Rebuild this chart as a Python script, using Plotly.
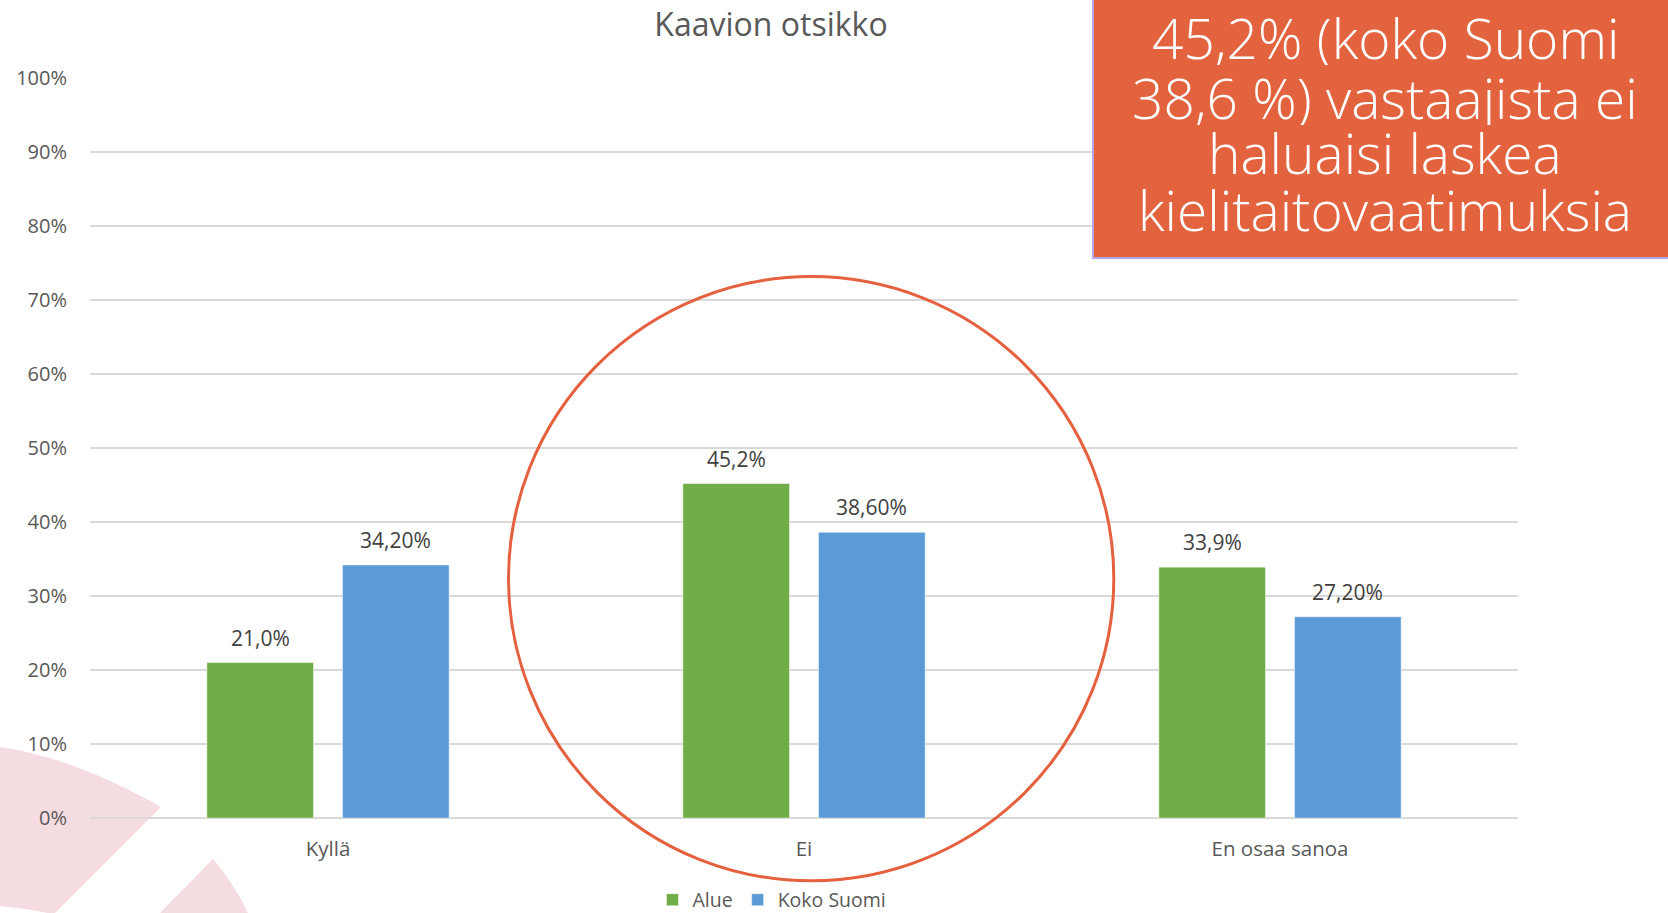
import plotly.graph_objects as go

# ---- data ----
categories = ["Kyllä", "Ei", "En osaa sanoa"]
alue = [21.0, 45.2, 33.9]
koko_suomi = [34.2, 38.6, 27.2]
series_names = ["Alue", "Koko Suomi"]
label_decimals = [1, 2]
y_tick_values = [0, 10, 20, 30, 40, 50, 60, 70, 80, 90, 100]
y_tick_labels = [f"{v}%" for v in y_tick_values]
title_text = "Kaavion otsikko"
callout_lines = ["45,2% (koko Suomi", "38,6 %) vastaajista ei", "haluaisi laskea", "kielitaitovaatimuksia"]

# ---- layout geometry ----
W, H = 1668, 913
ML, MR, MT, MB = 90, 150, 78, 95
PW, PH = W - ML - MR, H - MT - MB
BARGAP, BARGROUPGAP = 0.43, 0.214

GREEN, BLUE = "#70AD47", "#5B9BD5"
TXT, LBL = "#595959", "#404040"
ORANGE = "#E4633F"
PINK = "#F5DCE1"
FONT = "Open Sans"


def px(x):
    return (x - ML) / PW


def py(y):
    return 1 - (y - MT) / PH


def path(cmds):
    out = []
    for c in cmds:
        op, pts = c[0], c[1:]
        out.append(op + " ".join(f"{px(a):.5f},{py(b):.5f}" for a, b in pts))
    return " ".join(out) + " Z"


fig = go.Figure()
for name, vals, col in zip(series_names, [alue, koko_suomi], [GREEN, BLUE]):
    fig.add_trace(go.Bar(x=categories, y=vals, name=name,
                         marker=dict(color=col, line=dict(color="rgba(255,255,255,0.45)", width=1))))

# value labels
slot = (1 - BARGAP) * PW / len(categories) / len(series_names)
annotations = []
for s, (vals, dec) in enumerate(zip([alue, koko_suomi], label_decimals)):
    off = (s - (len(series_names) - 1) / 2) * slot
    for c, v in zip(categories, vals):
        annotations.append(dict(x=c, y=v, xref="x", yref="y", xshift=off, yshift=25,
                                text=f"{v:.{dec}f}".replace(".", ",") + "%",
                                showarrow=False, yanchor="middle",
                                font=dict(family=FONT, size=21, color=LBL)))

# callout text
line_y = [37, 98, 153, 210]
for t, yy in zip(callout_lines, line_y):
    annotations.append(dict(x=px(1385), y=py(yy), xref="paper", yref="paper", text=t,
                            showarrow=False, xanchor="center", yanchor="middle", height=55,
                            font=dict(family=FONT, size=55, color="white", weight=300)))

shapes = [
    # decorative pink pieces bottom-left
    dict(type="path", xref="paper", yref="paper", layer="below", line=dict(width=0), fillcolor=PINK,
         path=path([("M", (0, 747)), ("Q", (72, 757), (161, 807)), ("L", (55, 913)),
                    ("L", (48, 913)), ("Q", (22, 908), (0, 906))])),
    dict(type="path", xref="paper", yref="paper", layer="below", line=dict(width=0), fillcolor=PINK,
         path=path([("M", (213, 859)), ("Q", (233, 882), (248, 913)), ("L", (160, 913))])),
    # highlight circle
    dict(type="circle", xref="paper", yref="paper", layer="above",
         x0=px(508.5), x1=px(1113.8), y0=py(880.8), y1=py(276.6),
         line=dict(color="#E5603E", width=3), fillcolor="rgba(0,0,0,0)"),
    # callout box
    dict(type="rect", xref="paper", yref="paper", layer="above",
         x0=px(1093), x1=px(1690), y0=py(258), y1=py(-10),
         line=dict(color="#B3A5E6", width=2), fillcolor=ORANGE),
]

fig.update_layout(
    width=W, height=H,
    margin=dict(l=ML, r=MR, t=MT, b=MB, autoexpand=False),
    paper_bgcolor="white", plot_bgcolor="white",
    font=dict(family=FONT, color=TXT, size=20),
    title=dict(text=title_text, x=px(771), xref="paper", xanchor="center",
               y=1 - 25 / H, yanchor="middle", font=dict(family=FONT, size=32, color=TXT)),
    barmode="group", bargap=BARGAP, bargroupgap=BARGROUPGAP,
    showlegend=True,
    legend=dict(orientation="h", x=px(772), xanchor="center", y=py(900), yanchor="middle",
                font=dict(family=FONT, size=19.5, color=TXT), bgcolor="rgba(0,0,0,0)",
                itemwidth=30, traceorder="normal"),
    annotations=annotations,
    shapes=shapes,
)
fig.update_yaxes(range=[0, 100], tickmode="array", tickvals=y_tick_values, ticktext=y_tick_labels,
                 showgrid=True, gridcolor="#D9D9D9", gridwidth=1.5,
                 zeroline=True, zerolinecolor="#D9D9D9", zerolinewidth=1.5,
                 showline=False, ticks="", ticklabelstandoff=22,
                 tickfont=dict(family=FONT, size=20, color=TXT))
fig.update_xaxes(showline=False, ticks="", ticklabelstandoff=16,
                 tickfont=dict(family=FONT, size=20.5, color=TXT))

fig.write_html("out.html", config={"displayModeBar": False},
               post_script="document.body.style.margin='0';document.body.style.overflow='hidden';")
